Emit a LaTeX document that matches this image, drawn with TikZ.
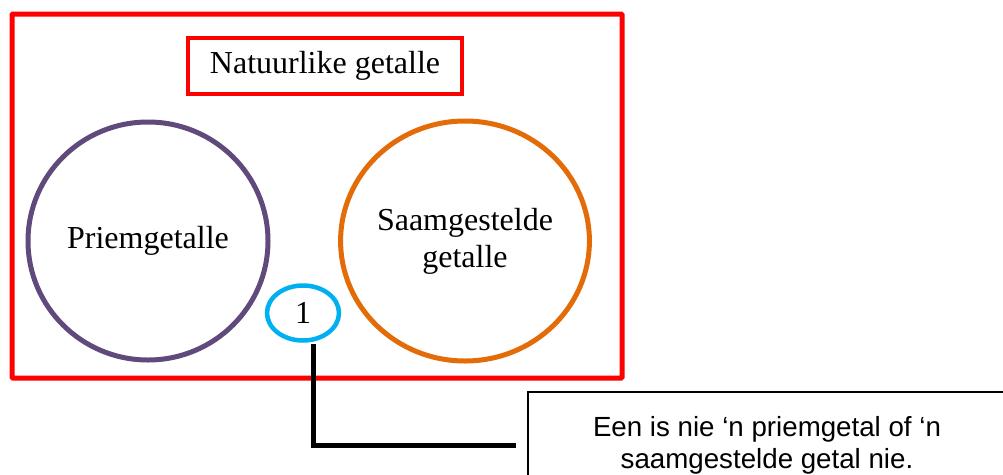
\documentclass[tikz,border=0pt]{standalone}
\usepackage{fontspec}
\setmainfont{Liberation Serif}
\newfontfamily\arialfont{Liberation Sans}
\usetikzlibrary{shapes.geometric}
\definecolor{vred}{HTML}{FF0000}
\definecolor{vpurple}{HTML}{604A7B}
\definecolor{vorange}{HTML}{E36C09}
\definecolor{vcyan}{HTML}{00B0F0}
\tikzset{
  frame/.style={draw=vred, line width=5pt, rounded corners=1pt},
  titlebox/.style={draw=vred, line width=4.5pt, inner sep=0pt, minimum width=274pt, minimum height=56pt, font=\fontsize{32}{38}\selectfont},
  setel/.style={ellipse, line width=5pt, inner sep=0pt, align=center, font=\fontsize{32}{37}\selectfont},
  onel/.style={ellipse, draw=vcyan, line width=4.5pt, inner sep=0pt, minimum width=72pt, minimum height=55pt, font=\fontsize{32}{38}\selectfont},
  notebox/.style={draw=black, line width=1.2pt, inner sep=0pt, minimum width=478pt, minimum height=106pt, align=center, font=\arialfont\fontsize{27.7}{32}\selectfont},
  conn/.style={draw=black, line width=5pt}
}
\begin{document}
\begin{tikzpicture}[x=1pt,y=-1pt]
\useasboundingbox (0,0) rectangle (1003,474);
\begin{scope}
\clip (0,0) rectangle (1003,474);
\node[frame, minimum width=610pt, minimum height=364pt, inner sep=0pt] (frame) at (317,196) {};
\node[titlebox] (title) at (325,66) {Natuurlike getalle};
\node[setel, draw=vpurple, minimum width=240pt, minimum height=238pt] (prime) at (148,241) {Priemgetalle};
\node[setel, draw=vorange, minimum width=248pt, minimum height=240pt] (comp) at (465,241) {Saamgestelde\\getalle};
\node[onel] (one) at (303,313) {1};
\node[notebox] (note) at (767,445) {Een is nie ‘n priemgetal of ‘n\\saamgestelde getal nie.};
\coordinate (end) at ([xshift=-11pt]note.west);
\draw[conn] ([yshift=-1pt]one.south -| 313,0) |- (end);
\end{scope}
\end{tikzpicture}
\end{document}
